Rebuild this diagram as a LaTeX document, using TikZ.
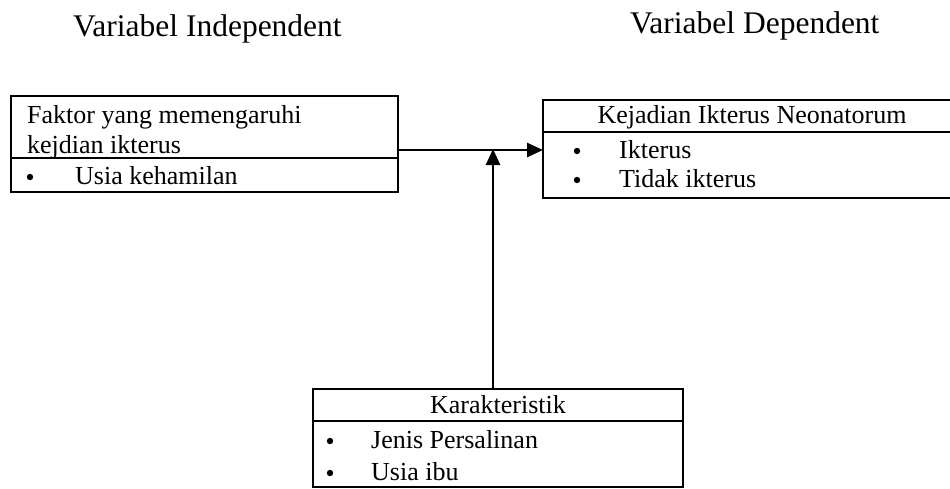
\documentclass[tikz,border=0pt]{standalone}
\usepackage{fontspec}
\setmainfont{Liberation Serif}
\usetikzlibrary{positioning,arrows.meta}
\begin{document}
\begin{tikzpicture}[x=1pt,y=-1pt,
  kotak/.style={draw,line width=2pt,inner sep=0pt,outer sep=0pt,anchor=north west},
  isi/.style={font=\fontsize{26}{30}\selectfont,inner sep=0pt,anchor=base west},
  judul/.style={font=\fontsize{31.5}{36}\selectfont,inner sep=0pt,anchor=base west},
  panah/.style={line width=2.6pt,-{Triangle[length=16pt,width=14pt]}}]
\def\lk{387};%Lebar kotak kiri
\def\lka{418};%Lebar kotak kanan
\def\lkb{370};%Lebar kotak bawah
\useasboundingbox (0,0) rectangle (950,488);

%Judul
\node[judul] (indep) at (73,36) {Variabel Independent};
\node[judul] (dep) at (630,33) {Variabel Dependent};

%Kotak kiri
\node[kotak,minimum width=\lk pt,minimum height=62pt] (faktor) at (11,96) {};
\node[kotak,minimum width=\lk pt,minimum height=34pt] (faktorlist) at (faktor.south west) {};
\node[isi] (faktora) at (27,123) {Faktor yang memengaruhi};
\node[isi] (faktorb) at (27,153) {kejdian ikterus};
\node[isi] (usiahamil) at (75,184) {Usia kehamilan};

%Kotak kanan
\node[kotak,minimum width=\lka pt,minimum height=32pt] (kejadian) at (543,100) {};
\node[kotak,minimum width=\lka pt,minimum height=66pt] (kejadianlist) at (kejadian.south west) {};
\node[isi,anchor=base] (kejadiant) at (752,123) {Kejadian Ikterus Neonatorum};
\node[isi] (ikterus) at (619,158) {Ikterus};
\node[isi] (tidak) at (619,187) {Tidak ikterus};

%Kotak bawah
\node[kotak,minimum width=\lkb pt,minimum height=32pt] (karakter) at (313,389) {};
\node[kotak,minimum width=\lkb pt,minimum height=66pt] (karakterlist) at (karakter.south west) {};
\node[isi,anchor=base] (karaktert) at (498,413) {Karakteristik};
\node[isi] (jenis) at (371,448) {Jenis Persalinan};
\node[isi] (usiaibu) at (371,480) {Usia ibu};

%Titik
\foreach \bx/\by in {30/184,577/158,577/187,330/448,330/480}{
    \fill (\bx,\by-7) circle (3.2pt);
}

%Panah
\coordinate (temu) at (493,150);
\draw[panah] (faktor.east |- temu) -- (kejadianlist.west |- temu);
\draw[panah] (temu |- karakter.north) -- ([yshift=1pt]temu);
\end{tikzpicture}
\end{document}
